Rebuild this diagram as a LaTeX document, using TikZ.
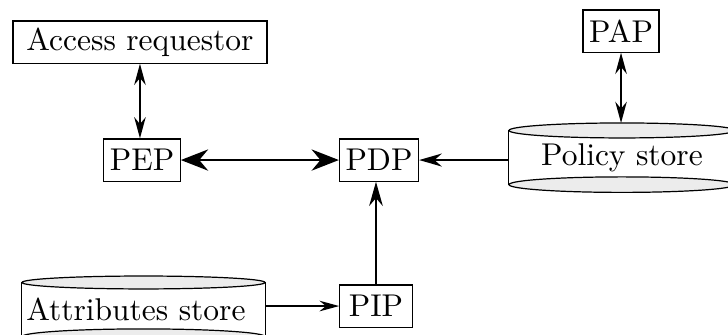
\documentclass[tikz,border=0pt]{standalone}
\usepackage{amsmath}
\usepackage{xcolor}
\usetikzlibrary{arrows.meta}

\tikzset{
  every node/.style={font=\fontsize{10.4}{12.5}\selectfont},
  box/.style={draw, minimum width=0.84cm, minimum height=0.49cm, inner sep=2pt},
  store/.style={minimum height=0.615cm, inner ysep=0pt},
  both/.style={semithick, {Stealth[length=7pt,width=3.8pt]}-{Stealth[length=7pt,width=3.8pt]}},
  one/.style={semithick, -{Stealth[length=7.5pt,width=4.3pt]}}
}

\begin{document}
\begin{tikzpicture}
            \useasboundingbox (0,0) rectangle (8.452,3.878);
            \clip (0,0) rectangle (8.452,3.878);
            % boxes
            \node[box, minimum width=2.95cm] (acc) at (1.625,3.390) {Access requestor};
            \node[box] (pep) at (1.649,2.020) {PEP};
            \node[box] (pdp) at (4.400,2.020) {PDP};
            \node[box] (pip) at (4.365,0.325) {PIP};
            \node[box] (pap) at (7.210,3.518) {PAP};
            % stores
            \node[store, minimum width=2.624cm] (pstore) at (7.221,2.049) {Policy store};
            \node[store, text width=2.72cm, inner xsep=0.05cm, align=left] (astore) at (1.666,0.284) {Attributes store};
            \foreach \s in {pstore, astore}{
                \draw (\s.north west) -- (\s.south west);
                \draw (\s.north east) -- (\s.south east);
            }
            \draw[fill=gray!15] (pstore.north) ellipse (1.312 and 0.087);
            \draw[fill=gray!15] (pstore.south) ellipse (1.312 and 0.09);
            \draw[fill=gray!15] (astore.north) ellipse (1.4105 and 0.075);
            \draw[fill=gray!15] (astore.south) ellipse (1.4105 and 0.09);
            % links
            \draw[both] (acc.south) -- (acc.south |- pep.north);
            \draw[both, thick, {Stealth[length=9pt,width=7pt]}-{Stealth[length=9pt,width=7pt]}] (pep.east) -- (pdp.west);
            \draw[one] (pstore.west |- pdp.east) -- (pdp.east);
            \draw[one, -{Stealth[length=8pt,width=4.5pt]}] (pip.north) -- (pip.north |- pdp.south);
            \draw[one, -{Stealth[length=6.5pt,width=3.5pt]}] (astore.east |- pip.west) -- (pip.west);
            \draw[both] (pap.south) -- ([yshift=0.087cm]pap.south |- pstore.north);
        \end{tikzpicture}
\end{document}
